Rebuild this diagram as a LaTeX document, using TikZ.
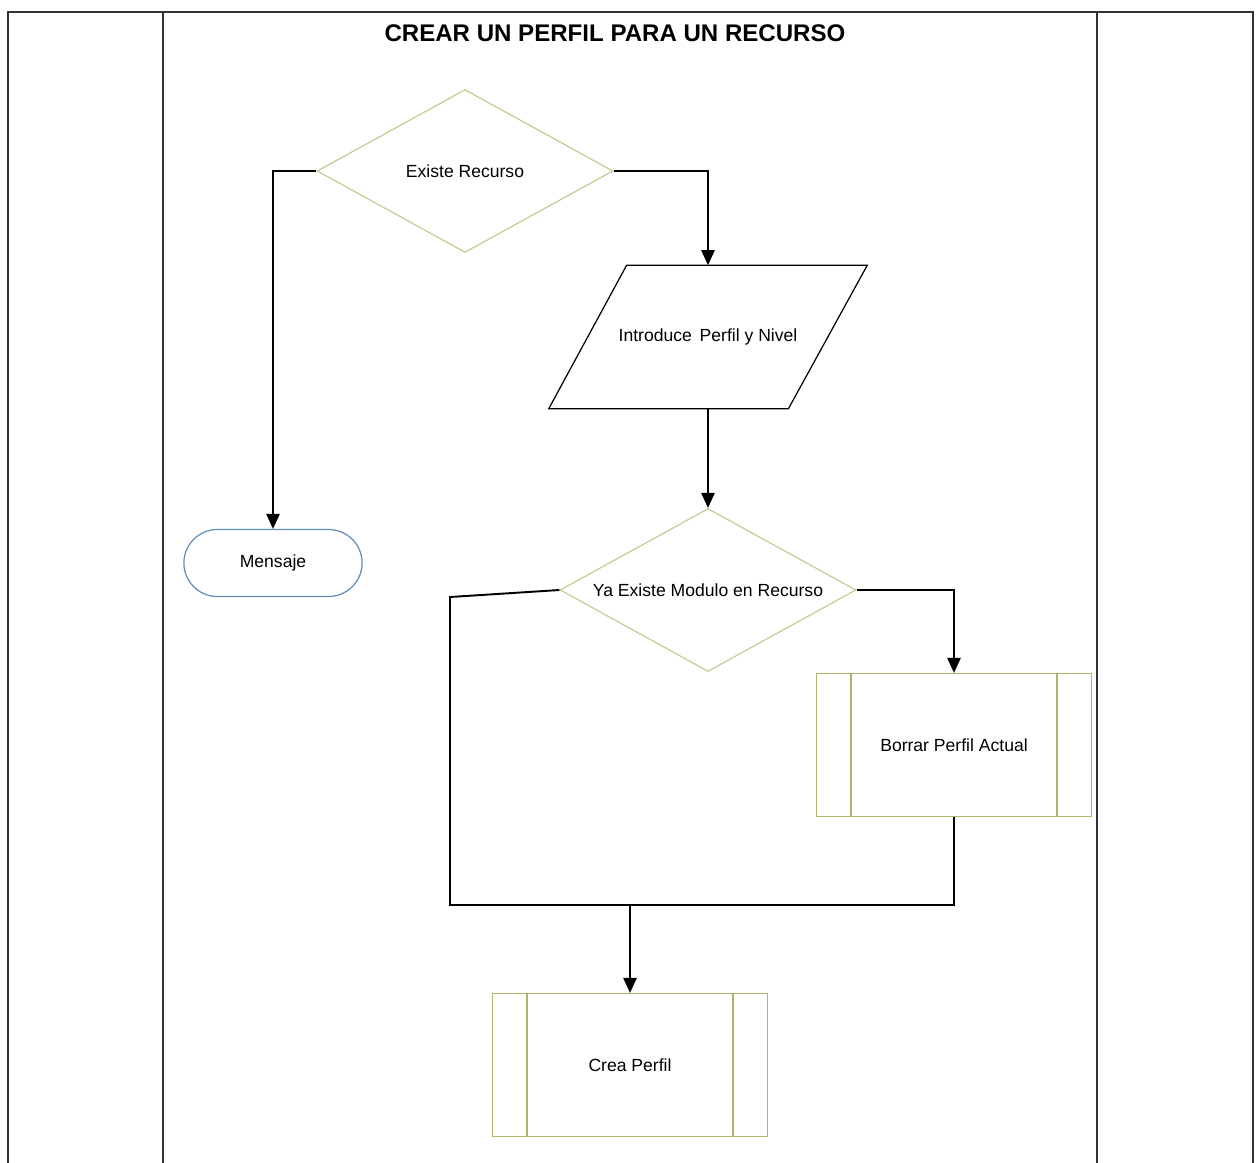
\documentclass[tikz,border=0pt]{standalone}
\usepackage{fontspec}
\setmainfont{Liberation Sans}
\usepackage{tikz}
\usetikzlibrary{arrows.meta, shapes.geometric, shapes.misc, positioning}
\definecolor{caqui}{RGB}{200,200,150}
\definecolor{oliva}{RGB}{170,185,105}
\definecolor{azulgris}{RGB}{100,140,185}
\definecolor{marcogris}{RGB}{50,50,50}
\tikzstyle{marco} = [draw=marcogris, line width=1.1pt]
\tikzstyle{decision} = [diamond, draw=caqui, line width=0.7pt, inner sep=0, aspect=1.8,
                        minimum width=5.92cm, minimum height=3.26cm]
\tikzstyle{datos} = [rectangle, minimum width=6.36cm, minimum height=2.86cm]
\tikzstyle{borde} = [draw=black, line width=0.7pt]
\tikzstyle{terminal} = [rounded rectangle, draw=azulgris, line width=0.7pt,
                        minimum width=3.8cm, minimum height=1.34cm]
\tikzstyle{proceso} = [rectangle, draw=oliva, line width=0.7pt,
                       minimum width=5.5cm, minimum height=2.86cm]
\tikzstyle{interior} = [draw=oliva, line width=0.7pt]
\tikzstyle{flecha} = [line width=1.1pt, -{Triangle[length=8.5pt, width=7.5pt]}]
\tikzstyle{linea} = [line width=1.1pt]

\begin{document}
\begin{tikzpicture}[x=0.02cm, y=-0.02cm, font=\fontsize{10}{12}\selectfont]
	\useasboundingbox (0,0) rectangle (1258,1163);

	% marco de la calle
	\draw [marco] (8,1163) |- (1253,12) -- (1253,1163);
	\draw [marco] (163,12) -- (163,1163);
	\draw [marco] (1097,12) -- (1097,1163);
	\node (Titulo) at (615,33) {\fontsize{13.7}{16}\selectfont\bfseries CREAR UN PERFIL PARA UN RECURSO};

	% primera pregunta
	\node (Existe) [decision] at (465,171) {Existe Recurso};
	\node (Mensaje) [terminal] at (273,563) {Mensaje};
	\draw [flecha] (Existe.west) -| (Mensaje.north);

	\node (Datos) [datos] at (708,337) {Introduce\, Perfil y Nivel};
	\draw [borde] ([xshift=1.56cm]Datos.north west) -- (Datos.north east)
		-- ([xshift=-1.58cm]Datos.south east) -- (Datos.south west) -- cycle;
	\draw [flecha] (Existe.east) -| (Datos.north);

	% segunda pregunta
	\node (Modulo) [decision] at (708,590) {Ya Existe Modulo en Recurso};
	\draw [flecha] (Datos.south) -- (Modulo.north);

	\node (Borrar) [proceso] at (954,745) {Borrar Perfil Actual};
	\draw [interior] ([xshift=0.7cm]Borrar.north west) -- ([xshift=0.7cm]Borrar.south west);
	\draw [interior] ([xshift=-0.7cm]Borrar.north east) -- ([xshift=-0.7cm]Borrar.south east);
	\draw [flecha] (Modulo.east) -| (Borrar.north);

	% se crea el perfil
	\node (Crea) [proceso] at (630,1065) {Crea Perfil};
	\draw [interior] ([xshift=0.7cm]Crea.north west) -- ([xshift=0.7cm]Crea.south west);
	\draw [interior] ([xshift=-0.7cm]Crea.north east) -- ([xshift=-0.7cm]Crea.south east);

	\coordinate (CodoIzq) at (450,597);
	\coordinate (Junta) at (630,905);
	\draw [linea] (Modulo.west) -- (CodoIzq) |- (Junta);
	\draw [linea] (Borrar.south) |- (Junta);
	\draw [flecha] (Junta) -- (Crea.north);
\end{tikzpicture}
\end{document}
